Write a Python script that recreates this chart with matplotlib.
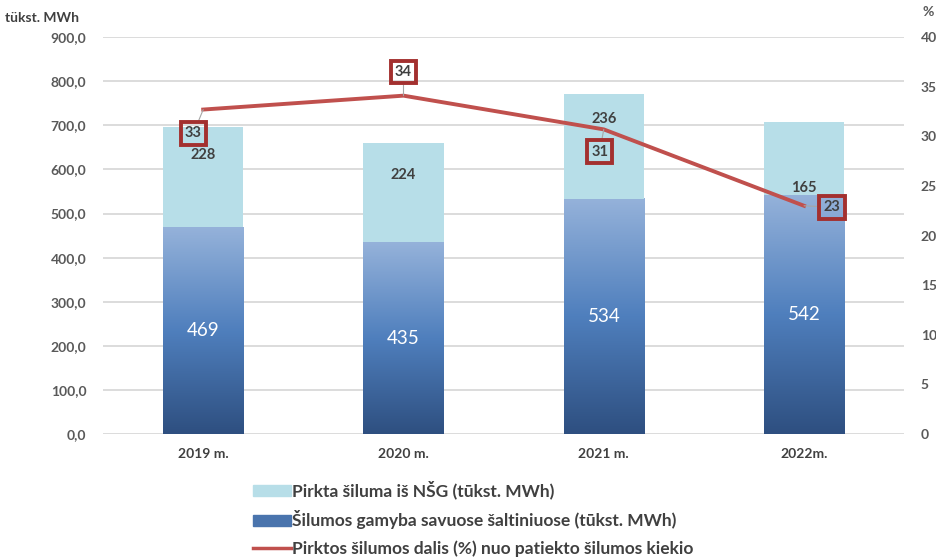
import matplotlib
matplotlib.use('Agg')
import matplotlib.pyplot as plt
import numpy as np
from matplotlib.colors import LinearSegmentedColormap
from matplotlib.patches import Patch
from matplotlib.lines import Line2D

years = ['2019 m.', '2020 m.', '2021 m.', '2022m.']
own_prod = [469, 435, 534, 542]
bought = [228, 224, 236, 165]
share_pct = [32.7, 34.1, 30.7, 23.0]
share_labels = ['33', '34', '31', '23']

# layout only: where the "bought" labels sit (Excel moved them by hand)
bought_label_y = [633, 587, 714, 558]
share_offsets = [(-7, -17), (0, 17), (-3, -16), (20, -1)]

GRID = '#d9d9d9'
TXT = '#595959'
LIGHT = '#b7dee8'
RED = '#c0504d'
BOX = '#a3302f'
grad = LinearSegmentedColormap.from_list('g', ['#2e4f80', '#4f7fbd', '#95b2da'])

plt.rcParams.update({'font.family': ['Lato', 'DejaVu Sans']})

fig = plt.figure(figsize=(9.37, 5.59), dpi=100)
ax = fig.add_axes([0.110, 0.2236, 0.855, 0.710])
x = np.arange(len(years))
w = 0.4

for i in x:
    ax.imshow(np.linspace(0, 1, 256).reshape(-1, 1), cmap=grad, origin='lower',
              extent=[i - w / 2, i + w / 2, 0, own_prod[i]], aspect='auto', zorder=2)
ax.bar(x, bought, w, bottom=own_prod, color=LIGHT, zorder=2)

for i in x:
    ax.text(i, own_prod[i] / 2, str(own_prod[i]), ha='center', va='center',
            color='white', fontsize=13.5, zorder=3)
    ax.text(i, bought_label_y[i], str(bought[i]), ha='center', va='center',
            color='#404040', fontsize=10.5, fontweight='bold', zorder=3)

ax.set_xlim(-0.5, 3.5)
ax.set_ylim(0, 900)
ax.set_yticks(np.arange(0, 901, 100))
ax.set_yticklabels([f'{v:.1f}'.replace('.', ',') for v in range(0, 901, 100)])
ax.set_xticks(x)
ax.set_xticklabels(years)
ax.grid(axis='y', color=GRID, lw=1.3, zorder=0)
ax.set_axisbelow(True)
for s in ax.spines.values():
    s.set_visible(False)
ax.tick_params(length=0, colors=TXT, labelsize=10, pad=12)
ax.tick_params(axis='x', pad=10, labelcolor='#404040')
for lab in ax.get_xticklabels() + ax.get_yticklabels():
    lab.set_fontweight('bold')

ax2 = ax.twinx()
ax2.plot(x, share_pct, color=RED, lw=2.8, zorder=4)
ax2.set_ylim(0, 40)
ax2.set_yticks(range(0, 41, 5))
for s in ax2.spines.values():
    s.set_visible(False)
ax2.tick_params(length=0, colors=TXT, labelsize=10, pad=12)
for lab in ax2.get_yticklabels():
    lab.set_fontweight('bold')

for i in x:
    ax2.annotate(share_labels[i], xy=(i, share_pct[i]), xytext=share_offsets[i],
                 textcoords='offset points', ha='center', va='center',
                 fontsize=10.5, fontweight='bold', color='#404040', zorder=5,
                 bbox=dict(boxstyle='square,pad=0.3', fc='none', ec=BOX, lw=2.8),
                 arrowprops=dict(arrowstyle='-', color='#a6a6a6', lw=0.8,
                                 shrinkA=0, shrinkB=0))

fig.text(0.005, 0.968, 'tükst. MWh', fontsize=10, fontweight='bold',
         color='#404040', va='center')
fig.text(0.985, 0.978, '%', fontsize=10, fontweight='bold',
         color=TXT, va='center')

handles = [Patch(color=LIGHT), Patch(color='#4a74ad'),
           Line2D([], [], color=RED, lw=2.5)]
labels = ['Pirkta šiluma iš NŠG (tūkst. MWh)',
          'Šilumos gamyba savuose šaltiniuose (tūkst. MWh)',
          'Pirktos šilumos dalis (%) nuo patiekto šilumos kiekio']
leg = fig.legend(handles, labels, loc='upper left', bbox_to_anchor=(0.263, 0.152),
                 frameon=False, fontsize=12.5, handlelength=2.15, handleheight=0.65,
                 handletextpad=0.1, labelspacing=0.62, borderaxespad=0)
for t in leg.get_texts():
    t.set_color('#404040')
    t.set_fontweight('bold')

fig.savefig('out.png', dpi=100)
